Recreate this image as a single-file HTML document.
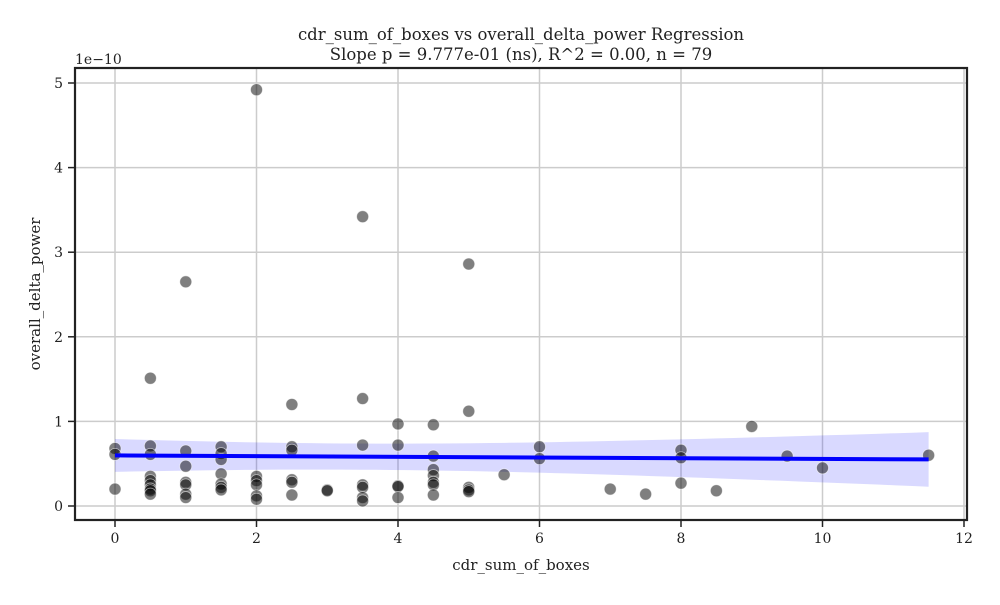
<!DOCTYPE html>
<html><head><meta charset="utf-8"><style>
body{margin:0;background:#fff;width:1000px;height:600px;overflow:hidden}
text{font-family:"DejaVu Serif","Liberation Serif",serif;fill:#222}
</style></head><body>
<svg id="chart" width="1000" height="600" xmlns="http://www.w3.org/2000/svg"></svg>
<script>
const xTicks=[0,2,4,6,8,10,12];
const yTicks=[0,1,2,3,4,5];
const xVals=[0,0,0,
0.5,0.5,0.5,0.5,0.5,0.5,0.5,0.5,0.5,
1,1,1,1,1,1,1,
1.5,1.5,1.5,1.5,1.5,1.5,1.5,
2,2,2,2,2,2,
2.5,2.5,2.5,2.5,2.5,2.5,
3,3,
3.5,3.5,3.5,3.5,3.5,3.5,3.5,
4,4,4,4,4,
4.5,4.5,4.5,4.5,4.5,4.5,4.5,
5,5,5,5,5,
5.5,6,6,7,7.5,8,8,8,8.5,9,9.5,10,11.5];
const yVals=[0.68,0.61,0.2,
1.51,0.71,0.61,0.35,0.3,0.25,0.2,0.18,0.14,
2.65,0.65,0.47,0.28,0.25,0.14,0.1,
0.7,0.62,0.55,0.38,0.26,0.22,0.19,
4.92,0.35,0.3,0.25,0.12,0.08,
1.2,0.7,0.66,0.31,0.28,0.13,
0.19,0.18,
3.42,1.27,0.72,0.25,0.22,0.1,0.06,
0.97,0.72,0.24,0.23,0.1,
0.96,0.59,0.43,0.36,0.28,0.25,0.13,
2.86,1.12,0.22,0.19,0.17,
0.37,0.7,0.56,0.2,0.14,0.66,0.57,0.27,0.18,0.94,0.59,0.45,0.6];
const NS="http://www.w3.org/2000/svg";
const svg=document.getElementById('chart');
const L=75,R=967,T=68,B=520;
const sx=v=>115+v*70.75, sy=v=>506-v*84.6;
function mk(t,a,p){const e=document.createElementNS(NS,t);for(const k in a)e.setAttribute(k,a[k]);(p||svg).appendChild(e);return e;}
xTicks.forEach(t=>{const g=mk('line',{x1:sx(t),x2:sx(t),y1:T,y2:B,stroke:'#cccccc','stroke-width':1.5});

});
yTicks.forEach(t=>{const g=mk('line',{x1:L,x2:R,y1:sy(t),y2:sy(t),stroke:'#cccccc','stroke-width':1.5});

});
const n=xVals.length;const mx=xVals.reduce((a,b)=>a+b)/n,my=yVals.reduce((a,b)=>a+b)/n;
let sxx=0,sxy=0;xVals.forEach((x,i)=>{sxx+=(x-mx)**2;sxy+=(x-mx)*(yVals[i]-my);});
const b1=sxy/sxx,b0=my-b1*mx;let sse=0;xVals.forEach((x,i)=>{sse+=(yVals[i]-b0-b1*x)**2;});
const s=Math.sqrt(sse/(n-2));
const x0=Math.min(...xVals),x1=Math.max(...xVals);
let up=[],lo=[];for(let k=0;k<=50;k++){const x=x0+(x1-x0)*k/50;const yh=b0+b1*x;const se=1.75*s*Math.sqrt(1/n+0.35*(x-mx)**2/sxx);up.push(sx(x)+','+sy(yh+se));lo.unshift(sx(x)+','+sy(yh-se));}
const band=mk('polygon',{points:up.concat(lo).join(' '),fill:'#0000ff','fill-opacity':0.15});


xVals.forEach((x,i)=>{const c=mk('circle',{cx:sx(x),cy:sy(yVals[i]),r:6,fill:'#000','fill-opacity':0.5,stroke:'#fff','stroke-width':0.8,'stroke-opacity':0.6});

});
const rl=mk('line',{x1:sx(x0),x2:sx(x1),y1:sy(b0+b1*x0),y2:sy(b0+b1*x1),stroke:'#0000ff','stroke-width':4});


const fr=mk('rect',{x:L,y:T,width:R-L,height:B-T,fill:'none',stroke:'#222','stroke-width':2.2});


xTicks.forEach(t=>{mk('line',{x1:sx(t),x2:sx(t),y1:B,y2:B+7,stroke:'#222','stroke-width':1.5});
const tx=mk('text',{x:sx(t),y:B+23,'text-anchor':'middle','font-size':14});tx.textContent=t;

});
yTicks.forEach(t=>{mk('line',{x1:L-7,x2:L,y1:sy(t),y2:sy(t),stroke:'#222','stroke-width':1.5});
const tx=mk('text',{x:L-12,y:sy(t)+5,'text-anchor':'end','font-size':14});tx.textContent=t;

});
</script>
<svg style="position:absolute;left:0;top:0" width="1000" height="600" xmlns="http://www.w3.org/2000/svg">
<text x="521" y="40" text-anchor="middle" font-size="16.5">cdr_sum_of_boxes vs overall_delta_power Regression</text>
<text x="521" y="60" text-anchor="middle" font-size="16.5">Slope p = 9.777e-01 (ns), R^2 = 0.00, n = 79</text>
<text x="75" y="64" font-size="14">1e−10</text>
<text x="521" y="570" text-anchor="middle" font-size="15">cdr_sum_of_boxes</text>
<text transform="translate(40,294) rotate(-90)" text-anchor="middle" font-size="15">overall_delta_power</text>
</svg>
</body></html>
